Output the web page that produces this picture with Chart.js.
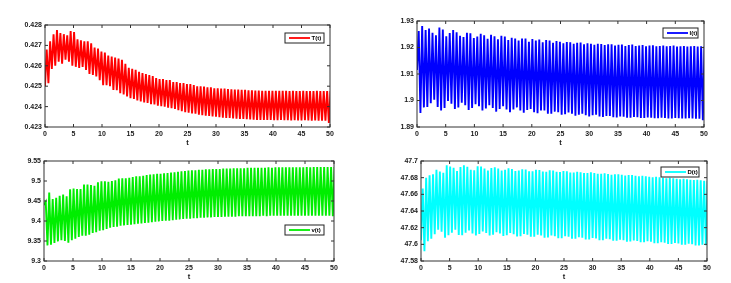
<!DOCTYPE html>
<html>
<head>
<meta charset="utf-8">
<script src="https://cdn.jsdelivr.net/npm/chart.js@4.4.0/dist/chart.umd.min.js"></script>
<style>
  body { margin: 0; background: #fff; width: 731px; height: 283px; position: relative; overflow: hidden; }
  canvas { position: absolute; }
</style>
</head>
<body>
<canvas id="gT"></canvas>
<canvas id="gI"></canvas>
<canvas id="gV"></canvas>
<canvas id="gD"></canvas>
<script>
// tiempo: ejes comunes
const xTicks = [0, 5, 10, 15, 20, 25, 30, 35, 40, 45, 50];
const halfStep = 0.3; // medio periodo de la oscilacion

// T(t)
const startT = 0.425;
const peaksT = [0.4268,0.4272,0.42755,0.42775,0.4276,0.42755,0.4275,0.4277,0.42765,0.4273,
  0.42725,0.4272,0.4272,0.4271,0.4269,0.42685,0.4267,0.42665,0.4265,0.42645,
  0.4264,0.42635,0.4263,0.4261,0.4259,0.42585,0.4258,0.4257,0.42565,0.4256,
  0.42555,0.4255,0.4254,0.42535,0.42535,0.4253,0.4253,0.4252,0.4252,0.42515,
  0.42515,0.4251,0.4251,0.42505,0.425,0.425,0.42498,0.42495,0.42495,0.4249,
  0.4249,0.42488,0.42488,0.42486,0.42485,0.42484,0.42483,0.42482,0.42482,0.4248,
  0.4248,0.42479,0.42479,0.42478,0.42478,0.42478,0.42477,0.42477,0.42477,0.42477,
  0.42477,0.42476,0.42477,0.42476,0.42476,0.42477,0.42476,0.42476,0.42476,0.42477,
  0.42476,0.42476,0.42476,0.42476];
const troughsT = [0.42515,0.42585,0.426,0.4262,0.4261,0.4263,0.4262,0.426,0.42595,0.4259,
  0.42595,0.4258,0.4256,0.42555,0.42548,0.4253,0.42505,0.42505,0.425,0.42482,
  0.4248,0.42466,0.4246,0.4245,0.42441,0.42438,0.4243,0.42425,0.4242,0.42418,
  0.42412,0.4241,0.42405,0.42402,0.424,0.42395,0.42392,0.42388,0.42383,0.42378,
  0.42372,0.4237,0.42367,0.42365,0.4236,0.42358,0.42356,0.42354,0.42352,0.4235,
  0.42348,0.42346,0.42345,0.42344,0.42342,0.42341,0.4234,0.4234,0.42338,0.42337,
  0.42336,0.42335,0.42335,0.42334,0.42334,0.42334,0.42333,0.42333,0.42334,0.42333,
  0.42333,0.42332,0.42333,0.42332,0.42332,0.42333,0.42332,0.42331,0.42332,0.42331,
  0.42331,0.42331,0.4232,0.42331];
const yTicksT = [0.423, 0.424, 0.425, 0.426, 0.427, 0.428];

// I(t)
const startI = 1.9115;
const peaksI = [1.9262,1.9281,1.9266,1.9272,1.9256,1.9246,1.9275,1.9268,1.9242,1.9255,
  1.9266,1.9257,1.9244,1.924,1.9256,1.9254,1.9236,1.9241,1.9252,1.9246,
  1.9233,1.9248,1.9242,1.9231,1.9244,1.9241,1.9228,1.9237,1.9234,1.9226,
  1.9234,1.9234,1.9222,1.9232,1.9226,1.923,1.922,1.9228,1.9226,1.9218,
  1.9224,1.9222,1.9216,1.9221,1.922,1.9214,1.9218,1.9219,1.9212,1.9216,
  1.9214,1.921,1.9214,1.9213,1.9209,1.9212,1.9212,1.9207,1.921,1.9211,
  1.9206,1.9209,1.9211,1.9206,1.9207,1.9209,1.9205,1.9207,1.9208,1.9205,
  1.9206,1.9207,1.9205,1.9206,1.9207,1.9204,1.9205,1.9206,1.9204,1.9205,
  1.9206,1.9204,1.9205,1.9205];
const troughsI = [1.8953,1.8974,1.8976,1.899,1.9003,1.8976,1.8962,1.8972,1.8998,1.8988,
  1.8968,1.8974,1.8992,1.8982,1.8964,1.8972,1.8986,1.8978,1.8962,1.897,
  1.8982,1.8972,1.8958,1.8968,1.8978,1.8966,1.8956,1.8966,1.8974,1.8962,
  1.8954,1.8964,1.8968,1.8956,1.8952,1.8962,1.8962,1.895,1.895,1.8958,
  1.8956,1.8946,1.8948,1.8955,1.895,1.8943,1.8946,1.895,1.8944,1.894,
  1.8944,1.8946,1.894,1.8938,1.8942,1.8942,1.8937,1.8936,1.894,1.8939,
  1.8935,1.8935,1.8938,1.8937,1.8934,1.8934,1.8936,1.8935,1.8933,1.8933,
  1.8935,1.8934,1.8932,1.8932,1.8934,1.8933,1.8932,1.8932,1.8933,1.8932,
  1.8931,1.8931,1.8926,1.893];
const yTicksI = [1.89, 1.9, 1.91, 1.92, 1.93];

// v(t)
const startV = 9.44;
const peaksV = [9.448,9.471,9.455,9.458,9.463,9.466,9.462,9.479,9.481,9.48,
  9.48,9.491,9.491,9.49,9.488,9.497,9.499,9.499,9.498,9.5,
  9.502,9.506,9.507,9.507,9.508,9.51,9.512,9.512,9.513,9.515,
  9.516,9.517,9.518,9.518,9.519,9.52,9.521,9.522,9.523,9.524,
  9.525,9.526,9.527,9.527,9.528,9.528,9.529,9.529,9.53,9.53,
  9.53,9.531,9.531,9.531,9.532,9.532,9.532,9.532,9.533,9.533,
  9.533,9.533,9.533,9.533,9.534,9.533,9.534,9.534,9.534,9.534,
  9.534,9.534,9.534,9.534,9.534,9.535,9.534,9.535,9.535,9.535,
  9.535,9.535,9.535,9.535];
const troughsV = [9.339,9.341,9.345,9.349,9.352,9.35,9.346,9.352,9.356,9.36,
  9.363,9.363,9.366,9.37,9.372,9.376,9.377,9.38,9.383,9.385,
  9.386,9.388,9.389,9.39,9.391,9.392,9.393,9.394,9.395,9.396,
  9.397,9.398,9.399,9.4,9.401,9.401,9.402,9.403,9.404,9.405,
  9.406,9.406,9.407,9.407,9.408,9.408,9.409,9.409,9.41,9.41,
  9.41,9.411,9.411,9.411,9.411,9.412,9.412,9.412,9.412,9.412,
  9.412,9.412,9.413,9.412,9.413,9.413,9.413,9.413,9.413,9.413,
  9.413,9.413,9.413,9.413,9.413,9.413,9.413,9.413,9.413,9.413,
  9.413,9.413,9.412,9.413];
const yTicksV = [9.3, 9.35, 9.4, 9.45, 9.5, 9.55];

// D(t)
const startD = 47.605;
const peaksD = [47.667,47.68,47.683,47.684,47.6895,47.6875,47.686,47.6948,47.6935,47.692,
  47.688,47.6928,47.6948,47.693,47.6896,47.6888,47.6936,47.6935,47.691,47.6885,
  47.6915,47.6925,47.691,47.6885,47.6895,47.6912,47.6905,47.688,47.6885,47.6902,
  47.6898,47.6878,47.6878,47.6895,47.6892,47.6875,47.6872,47.6888,47.6885,47.687,
  47.6868,47.688,47.6876,47.6862,47.6862,47.6872,47.6866,47.6855,47.6856,47.6864,
  47.6856,47.6846,47.6848,47.6852,47.6845,47.6836,47.684,47.6842,47.6834,47.6826,
  47.6832,47.6832,47.6822,47.6816,47.6822,47.6818,47.681,47.6805,47.681,47.6806,
  47.6798,47.6794,47.6798,47.6794,47.6786,47.6782,47.6786,47.678,47.6774,47.6772,
  47.6774,47.6768,47.6762,47.676];
const troughsD = [47.5916,47.6036,47.6068,47.612,47.6176,47.615,47.608,47.611,47.614,47.6176,
  47.6112,47.611,47.614,47.6165,47.613,47.6105,47.6125,47.6155,47.6135,47.6105,
  47.6115,47.6145,47.613,47.61,47.6108,47.6135,47.6122,47.6095,47.6098,47.6125,
  47.6115,47.609,47.609,47.6115,47.6105,47.608,47.6082,47.6105,47.6098,47.6074,
  47.6074,47.6096,47.609,47.6066,47.6066,47.6086,47.608,47.6058,47.6058,47.6076,
  47.607,47.605,47.605,47.6066,47.606,47.6042,47.6042,47.6056,47.605,47.6032,
  47.6034,47.6046,47.604,47.6024,47.6024,47.6036,47.603,47.6014,47.6014,47.6026,
  47.602,47.6004,47.6004,47.6016,47.601,47.5996,47.5994,47.6006,47.6,47.5986,
  47.5986,47.5996,47.599,47.5985];
const yTicksD = [47.58, 47.6, 47.62, 47.64, 47.66, 47.68, 47.7];

Chart.defaults.font.family = "'Liberation Sans', Arial, sans-serif";
Chart.defaults.font.size = 7;
Chart.defaults.color = "#1a1a1a";

// arma la serie alternando picos y valles
function armarSerie(inicio, picos, valles) {
  const puntos = [{ x: 0, y: inicio }];
  picos.forEach((p, k) => {
    puntos.push({ x: +(halfStep * (2 * k + 1)).toFixed(2), y: p });
    puntos.push({ x: +(halfStep * (2 * k + 2)).toFixed(2), y: valles[k] });
  });
  return puntos;
}

// caja y marcas hacia adentro, estilo matlab
const cajaEjes = {
  id: "cajaEjes",
  afterDraw(chart) {
    const { ctx, chartArea: a, scales } = chart;
    ctx.save();
    ctx.strokeStyle = "#333";
    ctx.lineWidth = 1;
    ctx.strokeRect(a.left, a.top, a.right - a.left, a.bottom - a.top);
    ctx.beginPath();
    scales.x.ticks.forEach(t => {
      const px = scales.x.getPixelForValue(t.value);
      ctx.moveTo(px, a.bottom); ctx.lineTo(px, a.bottom - 3);
      ctx.moveTo(px, a.top); ctx.lineTo(px, a.top + 3);
    });
    scales.y.ticks.forEach(t => {
      const py = scales.y.getPixelForValue(t.value);
      ctx.moveTo(a.left, py); ctx.lineTo(a.left + 3, py);
      ctx.moveTo(a.right, py); ctx.lineTo(a.right - 3, py);
    });
    ctx.stroke();
    ctx.restore();
  }
};

// leyenda dentro del area del grafico
const leyendaCaja = {
  id: "leyendaCaja",
  afterDraw(chart, args, opts) {
    const { ctx, chartArea: a } = chart;
    const w = opts.width, h = 10;
    const x = a.right - opts.right - w, y = a.top + opts.top;
    ctx.save();
    ctx.fillStyle = "#fff";
    ctx.fillRect(x, y, w, h);
    ctx.strokeStyle = "#222";
    ctx.lineWidth = 1;
    ctx.strokeRect(x, y, w, h);
    ctx.strokeStyle = opts.color;
    ctx.lineWidth = 1.8;
    ctx.beginPath();
    ctx.moveTo(x + 4, y + h / 2);
    ctx.lineTo(x + 25, y + h / 2);
    ctx.stroke();
    ctx.fillStyle = "#000";
    ctx.font = "bold 6px 'Liberation Sans', Arial, sans-serif";
    ctx.textBaseline = "middle";
    ctx.fillText(opts.label, x + 26.5, y + h / 2 + 0.5);
    ctx.restore();
  }
};

function crearGrafico(id, area, datos, yTicks, decimales, color, etiqueta, leyenda) {
  const canvas = document.getElementById(id);
  const W = area.right - area.left + 48;
  const H = area.bottom - area.top + 8 + 22;
  canvas.width = W;
  canvas.height = H;
  canvas.style.left = (area.left - 40) + "px";
  canvas.style.top = (area.top - 8) + "px";

  return new Chart(canvas, {
    type: "line",
    data: {
      datasets: [{
        label: etiqueta,
        data: datos,
        borderColor: color,
        borderWidth: 1.9,
        pointRadius: 0,
        tension: 0,
        fill: false
      }]
    },
    options: {
      responsive: false,
      animation: false,
      events: [],
      layout: { padding: { left: 0, top: 8, right: 8, bottom: 0 } },
      plugins: {
        legend: { display: false },
        tooltip: { enabled: false },
        leyendaCaja: { ...leyenda, color: color, label: etiqueta }
      },
      scales: {
        x: {
          type: "linear",
          min: 0,
          max: 50,
          afterBuildTicks: s => { s.ticks = xTicks.map(v => ({ value: v })); },
          afterFit: s => { s.height = 22; },
          grid: { display: false, drawTicks: false },
          border: { display: false },
          ticks: { padding: 3, maxRotation: 0, font: { size: 7, weight: "bold" } },
          title: { display: true, text: "t", font: { size: 7.5, weight: "bold" }, padding: { top: 0, bottom: 2 } }
        },
        y: {
          min: yTicks[0],
          max: yTicks[yTicks.length - 1],
          afterBuildTicks: s => { s.ticks = yTicks.map(v => ({ value: v })); },
          afterFit: s => { s.width = 40; },
          grid: { display: false, drawTicks: false },
          border: { display: false },
          ticks: {
            padding: 3,
            font: { size: 7, weight: "bold" },
            callback: v => String(+v.toFixed(decimales))
          }
        }
      }
    },
    plugins: [cajaEjes, leyendaCaja]
  });
}

crearGrafico("gT", { left: 45, top: 25, right: 330, bottom: 127 },
  armarSerie(startT, peaksT, troughsT), yTicksT, 3, "#ff0000", "T(t)",
  { right: 6, top: 8, width: 39 });

crearGrafico("gI", { left: 417, top: 21, right: 704, bottom: 127 },
  armarSerie(startI, peaksI, troughsI), yTicksI, 2, "#0000ff", "I(t)",
  { right: 6, top: 7, width: 35 });

crearGrafico("gV", { left: 44, top: 161, right: 334, bottom: 261 },
  armarSerie(startV, peaksV, troughsV), yTicksV, 2, "#00ee00", "v(t)",
  { right: 10, top: 64, width: 39 });

crearGrafico("gD", { left: 421, top: 161, right: 707, bottom: 261 },
  armarSerie(startD, peaksD, troughsD), yTicksD, 2, "#00ffff", "D(t)",
  { right: 8, top: 6, width: 38 });
</script>
</body>
</html>
